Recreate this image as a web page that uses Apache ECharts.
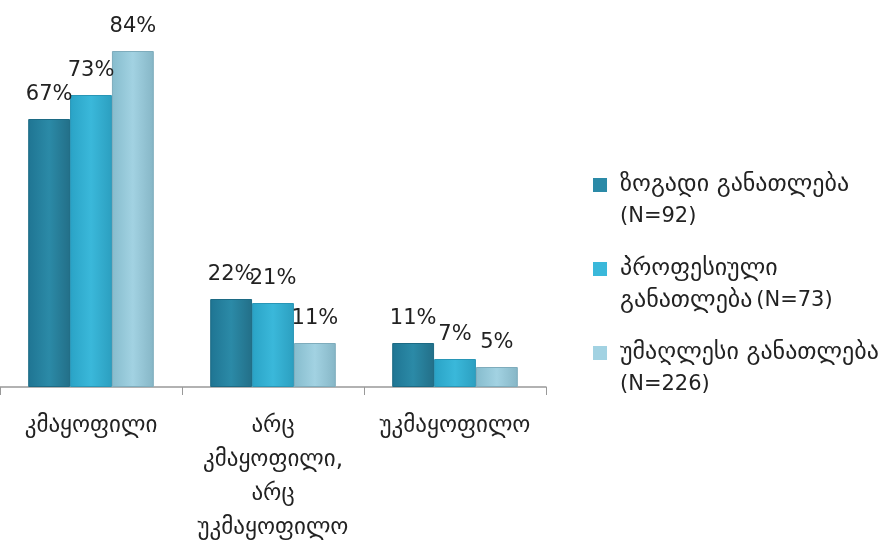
<!DOCTYPE html>
<html><head><meta charset="utf-8">
<script src="https://cdn.jsdelivr.net/npm/echarts@6/dist/echarts.min.js"></script>
<style>html,body{margin:0;padding:0;background:#fff}#c{width:891px;height:547px}</style>
</head><body><div id="c"></div>
<script>
var categories = ['კმაყოფილი', 'არც\nკმაყოფილი,\nარც\nუკმაყოფილო', 'უკმაყოფილო'];
var seriesNames = ['ზოგადი განათლება (N=92)', 'პროფესიული განათლება (N=73)', 'უმაღლესი განათლება (N=226)'];
var legendLabels = [
  '{g|ზოგადი განათლება}\n{l|(N=92)}',
  '{g|პროფესიული}\n{g|განათლება} {l|(N=73)}',
  '{g|უმაღლესი განათლება}\n{l|(N=226)}'
];
var general = [67, 22, 11];
var professional = [73, 21, 7];
var higher = [84, 11, 5];

var FONT = 'DejaVu Sans';
function grad(a, b, c) {
  return new echarts.graphic.LinearGradient(0, 0, 1, 0, [
    {offset: 0, color: a}, {offset: 0.5, color: b}, {offset: 1, color: c}
  ]);
}
var styles = [
  {color: grad('#1f7593', '#2b8aa7', '#236f88'), border: '#1c6a84', legend: '#2b8aa7'},
  {color: grad('#2aa3c6', '#3ab8da', '#2c9fc0'), border: '#2896b6', legend: '#3ab8da'},
  {color: grad('#86bccd', '#a2d2e2', '#86b6c6'), border: '#7eacbc', legend: '#a2d2e2'}
];
var values = [general, professional, higher];
var iconPath = 'path://M0,0h10v10h-10z M15.7,32.8';

var series = values.map(function (v, i) {
  return {
    name: seriesNames[i],
    type: 'bar',
    data: v,
    barGap: '0%',
    barCategoryGap: '31%',
    itemStyle: {color: styles[i].color, borderColor: styles[i].border, borderWidth: 1},
    label: {show: true, position: 'top', distance: 14, formatter: '{c}%',
      fontFamily: FONT, fontSize: 21, color: '#222'}
  };
});

var chart = echarts.init(document.getElementById('c'), null, {renderer: 'canvas'});
chart.setOption({
  animation: false,
  grid: {left: 0, right: 345, top: 27, bottom: 160, containLabel: false},
  legend: {
    orient: 'vertical', left: 588, top: 164,
    itemWidth: 22, itemHeight: 46, itemGap: 20,
    icon: iconPath,
    formatter: function (name) { return legendLabels[seriesNames.indexOf(name)]; },
    textStyle: {fontFamily: FONT, color: '#222', lineHeight: 32,
      rich: {
        g: {fontFamily: FONT, fontSize: 24, color: '#222', lineHeight: 32},
        l: {fontFamily: FONT, fontSize: 21, color: '#222', lineHeight: 32}
      }},
    data: seriesNames.map(function (n, i) {
      return {name: n, itemStyle: {color: styles[i].legend, borderWidth: 0}};
    })
  },
  xAxis: {
    type: 'category', data: categories,
    axisLine: {lineStyle: {color: '#999', width: 1.5}},
    axisTick: {show: true, interval: 0, length: 8, lineStyle: {color: '#999'}},
    axisLabel: {interval: 0, margin: 22, fontFamily: FONT, fontSize: 23, color: '#222', lineHeight: 34}
  },
  yAxis: {type: 'value', min: 0, max: 90, show: false, splitLine: {show: false}},
  series: series
});
</script></body></html>
